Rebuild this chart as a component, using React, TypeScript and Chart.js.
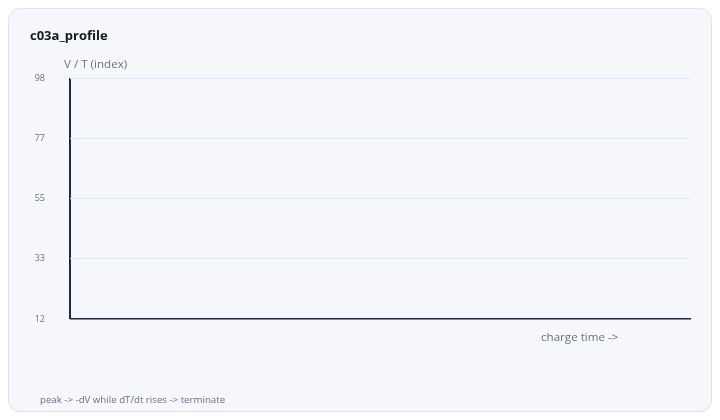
import { Chart, registerables } from "chart.js";
import { useEffect, useRef } from "react";

Chart.register(...registerables);

// charge profile: time points and V / T index values (none plotted in the source)
const chargeTime: number[] = [];
const voltageIndex: number[] = [];

const yTickLabels = ["12", "33", "55", "77", "98"];
const yMin = 12;
const yMax = 98;

const chartTitle = "c03a_profile";
const yTitle = "V / T (index)";
const xTitle = "charge time ->";
const footNote = "peak -> -dV while dT/dt rises -> terminate";

const DARK = "#1e293b";
const GRID = "#e2e8f0";
const MUTED = "#6b7280";
const FONT = "'Open Sans', 'Noto Sans', sans-serif";

const ProfileChart = () => {
    const canvasRef = useRef<HTMLCanvasElement | null>(null);
    const chartRef = useRef<Chart | null>(null);

    useEffect(() => {
        if (!canvasRef.current) return;

        // axis captions are drawn flat, not rotated
        const captionPlugin = {
            id: "captionPlugin",
            afterDraw(chart: any) {
                const { ctx, chartArea } = chart;
                ctx.save();
                ctx.fillStyle = MUTED;
                ctx.font = `11.6px ${FONT}`;
                ctx.textAlign = "left";
                ctx.textBaseline = "middle";
                ctx.fillText(yTitle, chartArea.left - 6, chartArea.top - 13);
                ctx.fillText(xTitle, chartArea.right - 150, chartArea.bottom + 19);
                ctx.restore();
            },
        };

        if (chartRef.current) chartRef.current.destroy();

        chartRef.current = new Chart(canvasRef.current, {
            type: "line",
            data: {
                labels: chargeTime,
                datasets: [{
                    label: "V / T",
                    data: voltageIndex,
                    borderColor: DARK,
                    pointRadius: 0,
                }],
            },
            options: {
                responsive: true,
                maintainAspectRatio: false,
                animation: false,
                layout: { padding: { top: 69, right: 20, bottom: 92, left: 0 } },
                plugins: {
                    legend: { display: false },
                    tooltip: { enabled: false },
                },
                scales: {
                    x: {
                        type: "linear",
                        min: 0,
                        max: 100,
                        ticks: { display: false },
                        grid: {
                            drawTicks: false,
                            color: (c: any) => (c.index === 0 ? DARK : "transparent"),
                            lineWidth: 2,
                        },
                        border: { display: false },
                        afterFit: (s: any) => { s.height = 0; },
                    },
                    y: {
                        min: yMin,
                        max: yMax,
                        ticks: {
                            stepSize: (yMax - yMin) / (yTickLabels.length - 1),
                            padding: 25,
                            color: MUTED,
                            font: { family: FONT, size: 9 },
                            callback: (_v: any, i: number) => yTickLabels[i],
                        },
                        grid: {
                            drawTicks: false,
                            color: (c: any) => (c.index === 0 ? DARK : GRID),
                            lineWidth: (c: any) => (c.index === 0 ? 1.5 : 1),
                        },
                        border: { display: false },
                        afterFit: (s: any) => { s.width = 61; },
                    },
                },
            } as any,
            plugins: [captionPlugin],
        });

        return () => {
            if (chartRef.current) chartRef.current.destroy();
            chartRef.current = null;
        };
    }, []);

    return <canvas ref={canvasRef} />;
};

export default function App() {
    return (
        <div style={{
            position: "relative",
            width: 702,
            height: 402,
            border: "1px solid #dde3eb",
            borderRadius: 12,
            background: "#f5f7fb",
            fontFamily: FONT,
        }}>
            <div style={{ position: "absolute", inset: 0 }}>
                <ProfileChart />
            </div>
            <div style={{
                position: "absolute", left: 21, top: 18, fontSize: 13, lineHeight: "16px",
                fontWeight: 700, color: "#111827",
            }}>{chartTitle}</div>
            <div style={{
                position: "absolute", left: 31, top: 385, fontSize: 9.7, lineHeight: "12px",
                color: MUTED,
            }}>{footNote}</div>
        </div>
    );
}
